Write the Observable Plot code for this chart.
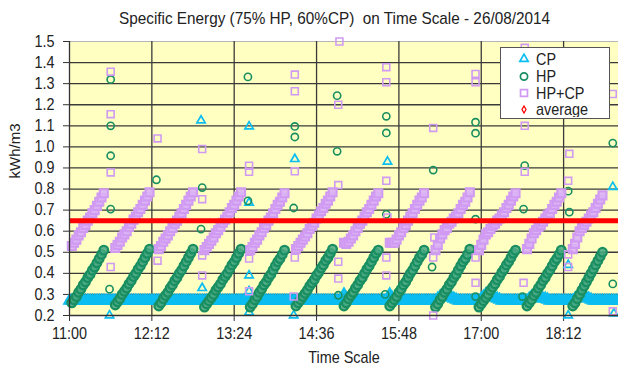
<!DOCTYPE html>
<html><head><meta charset="utf-8">
<script src="https://cdn.jsdelivr.net/npm/d3@7"></script>
<script src="https://cdn.jsdelivr.net/npm/@observablehq/plot@0.6"></script>
<style>
html,body{margin:0;padding:0;background:#fff;}
#wrap{position:relative;width:618px;height:374px;overflow:hidden;font-family:"Liberation Sans",Arial,sans-serif;color:#222;}
#title{height:30px;line-height:30px;padding-top:4px;box-sizing:border-box;text-align:center;font-size:17px;padding-left:51px;white-space:pre;transform:scaleX(0.9);transform-origin:334.5px 50%;}
#legend{position:absolute;left:500px;top:47px;width:110px;height:72px;box-sizing:border-box;background:#fff;border:1.5px solid #555;}
#legend svg{display:block}
</style></head>
<body><div id="wrap"><div id="title"></div><div id="chart"></div><div id="legend"></div></div>
<script>
// ---------- data (minutes after 11:00, 26/08/2014) ----------
const titleText = "Specific Energy (75% HP, 60%CP)  on Time Scale - 26/08/2014";
const seriesNames = ["CP", "HP", "HP+CP", "average"];
const xTickLabels = ["11:00","12:12","13:24","14:36","15:48","17:00","18:12"];
const xDomainLabels = ["11:00","19:00"];
const yTicks = [0.2,0.3,0.4,0.5,0.6,0.7,0.8,0.9,1.0,1.1,1.2,1.3,1.4,1.5];
const average = 0.65;
const sampleStep = 2; // minutes between logged samples
// start minute of each filling ramp
const rampStart = [2,40,78,118,158,198,240,280,320,358,400,440];
// HP ramps (kWh/m3)
const hpRamps = [
  [0.26,0.275,0.29,0.31,0.325,0.345,0.36,0.38,0.395,0.415,0.43,0.45,0.47,0.49,0.51],
  [0.25,0.265,0.28,0.30,0.315,0.33,0.35,0.365,0.385,0.40,0.42,0.435,0.455,0.475,0.495,0.515],
  [0.245,0.26,0.28,0.295,0.31,0.33,0.345,0.365,0.38,0.40,0.415,0.435,0.455,0.475,0.495,0.515],
  [0.24,0.255,0.27,0.285,0.30,0.32,0.335,0.35,0.37,0.385,0.40,0.42,0.44,0.455,0.475,0.495,0.515],
  [0.24,0.255,0.275,0.29,0.31,0.325,0.345,0.36,0.38,0.395,0.415,0.435,0.455,0.47,0.49,0.51],
  [0.245,0.26,0.275,0.29,0.305,0.32,0.34,0.355,0.37,0.39,0.405,0.425,0.44,0.46,0.475,0.495,0.515],
  [0.245,0.26,0.28,0.295,0.31,0.33,0.345,0.365,0.38,0.40,0.42,0.435,0.455,0.475,0.495,0.51],
  [0.245,0.26,0.275,0.29,0.31,0.325,0.345,0.36,0.38,0.40,0.415,0.435,0.455,0.475,0.49,0.51],
  [0.24,0.255,0.275,0.29,0.31,0.325,0.345,0.36,0.38,0.395,0.415,0.435,0.455,0.47,0.49,0.515],
  [0.24,0.255,0.27,0.285,0.30,0.32,0.335,0.35,0.37,0.385,0.405,0.42,0.44,0.455,0.475,0.495,0.51],
  [0.245,0.26,0.275,0.295,0.31,0.33,0.345,0.365,0.38,0.40,0.415,0.435,0.455,0.47,0.49,0.51],
  [0.245,0.26,0.28,0.30,0.32,0.34,0.36,0.38,0.40,0.42,0.44,0.46,0.48,0.50]
];
// HP+CP ramps (kWh/m3)
const hpcpRamps = [
  [0.53,0.545,0.56,0.58,0.595,0.615,0.63,0.65,0.665,0.685,0.70,0.72,0.74,0.76,0.78],
  [0.52,0.535,0.55,0.57,0.585,0.60,0.62,0.635,0.655,0.67,0.69,0.705,0.725,0.745,0.765,0.785],
  [0.515,0.53,0.55,0.565,0.58,0.60,0.615,0.635,0.65,0.67,0.685,0.705,0.725,0.745,0.765,0.785],
  [0.51,0.525,0.54,0.555,0.57,0.59,0.605,0.62,0.64,0.655,0.67,0.69,0.71,0.725,0.745,0.765,0.785],
  [0.51,0.525,0.545,0.56,0.58,0.595,0.615,0.63,0.65,0.665,0.685,0.705,0.725,0.74,0.76,0.78],
  [0.515,0.53,0.545,0.56,0.575,0.59,0.61,0.625,0.64,0.66,0.675,0.695,0.71,0.73,0.745,0.765,0.785],
  [0.545,0.54,0.55,0.565,0.58,0.60,0.615,0.635,0.65,0.67,0.69,0.705,0.725,0.745,0.765,0.78],
  [0.545,0.545,0.545,0.56,0.58,0.595,0.615,0.63,0.65,0.67,0.685,0.705,0.725,0.745,0.76,0.78],
  [0.51,0.535,0.565,0.585,0.605,0.615,0.635,0.645,0.66,0.67,0.685,0.705,0.725,0.74,0.76,0.785],
  [0.51,0.535,0.56,0.585,0.595,0.61,0.625,0.635,0.65,0.66,0.675,0.69,0.71,0.725,0.745,0.765,0.78],
  [0.515,0.54,0.565,0.59,0.605,0.62,0.63,0.645,0.66,0.675,0.685,0.705,0.725,0.74,0.76,0.78],
  [0.515,0.54,0.57,0.60,0.615,0.63,0.645,0.66,0.675,0.69,0.71,0.73,0.75,0.77]
];
// CP, one sample every 2 minutes from 11:00 to 19:00
const cpValues = [
  0.27,0.27,0.27,0.27,0.27,0.27,0.27,0.27,0.27,0.27, 0.27,0.27,0.27,0.27,0.27,0.27,0.27,0.27,0.27,0.27,
  0.27,0.27,0.27,0.27,0.27,0.27,0.27,0.27,0.27,0.27, 0.27,0.27,0.27,0.27,0.27,0.27,0.27,0.27,0.27,
  0.27,0.27,0.27,0.27,0.27,0.27,0.27,0.27,0.27,0.27, 0.27,0.27,0.27,0.27,0.27,0.27,0.27,0.27,0.27,0.27,
  0.27,0.27,0.27,0.27,0.27,0.27,0.27,0.27,0.27,0.27, 0.27,0.27,0.27,0.27,0.27,0.27,0.27,0.27,0.27,0.27,
  0.27,0.27,0.27,0.27,0.27,0.27,0.27,0.27,0.27,0.27, 0.27,0.27,0.27,0.27,0.27,0.27,0.27,0.27,0.27,0.27,
  0.27,0.27,0.27,0.27,0.27,0.27,0.27,0.27,0.27,0.27, 0.27,0.27,0.27,0.27,0.27,0.27,0.27,0.27,0.27,0.27,0.27,
  0.30,0.28,0.27,0.27,0.27,0.27,0.27,0.27,0.27,0.27, 0.27,0.27,0.27,0.27,0.27,0.27,0.27,0.27,0.27,0.27,
  0.30,0.285,0.27,0.27,0.27,0.27,0.27,0.27,0.27,0.27, 0.27,0.27,0.27,0.27,0.27,0.27,0.27,0.27,0.27,0.27,
  0.27,0.28,0.29,0.295,0.295,0.29,0.29,0.285,0.28,0.275, 0.27,0.27,0.27,0.27,0.27,0.27,0.27,0.27,0.27,
  0.27,0.28,0.29,0.30,0.295,0.29,0.29,0.285,0.28,0.275, 0.27,0.27,0.27,0.27,0.27,0.27,0.27,0.27,0.27,0.27,0.27,
  0.27,0.28,0.29,0.295,0.295,0.29,0.285,0.28,0.28,0.275, 0.27,0.27,0.27,0.27,0.27,0.27,0.27,0.27,0.27,0.27,
  0.27,0.28,0.29,0.30,0.295,0.29,0.285,0.28,0.275, 0.27,0.27,0.27,0.27,0.27,0.27,0.27,0.27,0.27,0.27,0.27,0.27
];
// scattered points at the restarts: [minute, value]
const cpOutliers = [[35,0.2],[115,1.125],[116,0.33],[157,1.097],[157,0.735],[157,0.39],[157,0.315],[157,0.215],
  [197,0.942],[196,0.2],[278,0.93],[436,0.44],[436,0.2],[475,0.81],[476,0.21]];
const hpOutliers = [[35,0.325],[36,0.705],[36,0.958],[36,1.10],[36,1.32],[76,0.844],[115,0.61],[116,0.807],
  [156,0.744],[156,1.332],[196,0.71],[197,1.047],[197,1.097],[235,0.296],[234,0.979],[234,1.243],
  [276,0.30],[277,0.68],[277,1.066],[277,1.145],[317,0.43],[318,0.89],[355,0.29],[355,0.657],[355,1.065],[355,1.117],
  [396,0.29],[397,0.705],[398,0.911],[437,0.69],[436,0.79],[475,0.35],[475,1.018]];
const hpcpOutliers = [[36,0.43],[36,0.879],[36,1.155],[36,1.357],[77,0.46],[77,1.04],
  [116,0.39],[116,0.485],[116,0.752],[116,0.99],[157,0.315],[157,0.47],[157,0.882],[157,0.911],
  [196,0.29],[197,0.475],[197,0.884],[197,1.264],[197,1.343],[235,0.375],[235,0.455],[235,0.819],[235,1.20],[236,1.5],
  [277,0.39],[277,0.475],[278,0.665],[277,0.839],[277,1.307],[277,1.378],[318,0.2],[318,0.475],[319,0.57],[318,1.09],
  [355,0.355],[355,0.475],[355,1.307],[355,1.346],[397,0.355],[398,0.882],[398,1.10],[398,1.47],
  [436,0.43],[436,0.49],[436,0.839],[437,0.967],[475,0.22],[475,1.251]];

// ---------- styling ----------
const cpColor = "#0bbdf0", hpColor = "#188e61", hpcpColor = "#d09af2", avgColor = "#ff0000";
const plotBg = "#ffffc2";
const font = '"Liberation Sans",Arial,sans-serif';
const squeeze = 0.9;

const base = Date.UTC(2014, 7, 26, 11, 0);
const atMin = m => new Date(base + m * 60000);
const T = s => { const [h, m] = s.split(":").map(Number); return atMin(h * 60 + m - 660); };

const rampRows = ramps => ramps.flatMap((vals, k) => vals.map((v, i) => ({date: atMin(rampStart[k] + sampleStep * i), value: v})));
const ptRows = pts => pts.map(([m, v]) => ({date: atMin(m), value: v}));

const cpBand = cpValues.map((v, i) => ({date: atMin(i * sampleStep), value: v}));
const xTicks = xTickLabels.map(T);

document.getElementById("title").textContent = titleText;

const chart = Plot.plot({
  width: 618, height: 344,
  marginLeft: 69, marginRight: 0, marginTop: 11, marginBottom: 59,
  style: {fontFamily: font, fontSize: "16px", color: "#222", background: "transparent", overflow: "visible"},
  x: {type: "utc", domain: xDomainLabels.map(T)},
  y: {domain: [yTicks[0], yTicks[yTicks.length - 1]]},
  marks: [
    Plot.frame({fill: plotBg, stroke: null}),
    Plot.ruleY(yTicks.slice(1, -1), {stroke: "#3a3a3a", strokeWidth: 1.3}),
    Plot.ruleY([yTicks[yTicks.length - 1]], {stroke: "#b5b5b5", strokeWidth: 1.2}),
    Plot.ruleX(xTicks.slice(1), {stroke: "#3a3a3a", strokeWidth: 1.3}),
    Plot.axisY({ticks: yTicks, tickFormat: d3.format(".1f"), tickSize: 6, tickPadding: 9, label: null, stroke: "#333", fill: "#222"}),
    Plot.axisX({ticks: xTicks, tickFormat: d3.utcFormat("%H:%M"), tickSize: 6, tickPadding: 6, label: null, stroke: "#333", fill: "#222"}),
    // CP
    Plot.dot(cpBand, {x: "date", y: "value", symbol: "triangle", r: 3.8, stroke: cpColor, strokeWidth: 2.2, fill: cpColor, fillOpacity: 0.9}),
    Plot.dot(ptRows(cpOutliers), {x: "date", y: "value", symbol: "triangle", r: 3.1, stroke: cpColor, strokeWidth: 1.7, fill: "none"}),
    // HP
    Plot.dot(rampRows(hpRamps), {x: "date", y: "value", symbol: "circle", r: 4.3, stroke: hpColor, strokeWidth: 2.3, fill: "#4aa882", fillOpacity: 0.85}),
    Plot.dot(ptRows(hpOutliers), {x: "date", y: "value", symbol: "circle", r: 3.6, stroke: hpColor, strokeWidth: 1.6, fill: "none"}),
    // HP+CP
    Plot.dot(rampRows(hpcpRamps), {x: "date", y: "value", symbol: "square", r: 4.5, stroke: hpcpColor, strokeWidth: 2.1, fill: "#dcb4f5", fillOpacity: 0.9}),
    Plot.dot(ptRows(hpcpOutliers), {x: "date", y: "value", symbol: "square", r: 3.9, stroke: hpcpColor, strokeWidth: 1.6, fill: "none"}),
    Plot.ruleY([average], {stroke: avgColor, strokeWidth: 5}),
    Plot.ruleX([T(xDomainLabels[0])], {stroke: "#333", strokeWidth: 1.3}),
    Plot.ruleY([yTicks[0]], {stroke: "#333", strokeWidth: 1.3}),
    Plot.text(["kWh/m3"], {frameAnchor: "left", dx: -54, rotate: -90, fill: "#222", fontSize: 15}),
    Plot.text(["Time Scale"], {frameAnchor: "bottom", dy: 47, fill: "#222", fontSize: 16})
  ]
});
// narrow the horizontal text a little, like the reference's condensed face
d3.select(chart).selectAll('g[aria-label$="tick label"] text, g[aria-label="text"] text').each(function () {
  const el = d3.select(this);
  const t = el.attr("transform") || "";
  if (t.includes("rotate")) return;
  el.attr("transform", `${t} scale(${squeeze},1)`);
});
document.getElementById("chart").appendChild(chart);

// legend
const lg = d3.select("#legend").append("svg").attr("width", 107).attr("height", 69)
  .style("font-family", font).style("font-size", "16px");
const rowsY = [11, 28.5, 45, 61.5];
const syms = [d3.symbolTriangle, d3.symbolCircle, d3.symbolSquare, d3.symbolDiamond];
const sizes = [30, 41, 48, 14];
const cols = [cpColor, hpColor, hpcpColor, avgColor];
seriesNames.forEach((name, i) => {
  lg.append("path").attr("d", d3.symbol(syms[i], sizes[i])())
    .attr("transform", `translate(23,${rowsY[i]})`)
    .attr("fill", "none").attr("stroke", cols[i]).attr("stroke-width", i === 3 ? 1.3 : 1.7);
  lg.append("text").attr("transform", `translate(35,${rowsY[i]}) scale(${squeeze},1)`).attr("dy", "0.35em").attr("fill", "#222").text(name);
});
</script></body></html>
